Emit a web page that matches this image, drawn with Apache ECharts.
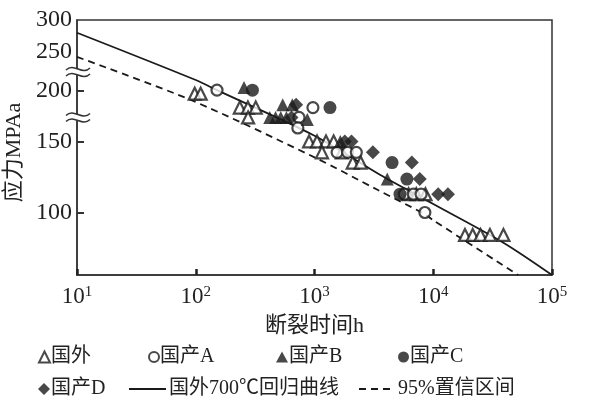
<!DOCTYPE html>
<html><head><meta charset="utf-8">
<script src="https://cdn.jsdelivr.net/npm/echarts@6/dist/echarts.min.js"></script>
<style>html,body{margin:0;padding:0;background:#fff}#c{width:597px;height:408px}</style>
</head><body><div id="c"></div>
<script>
// ---- data (time h, stress MPa) ----
const foreign = [[98,197],[110,197],[235,182],[275,182],[320,182],[276,172],[900,150],[1050,150],[1250,150],[1450,150],[1156,141],[1700,141],[2100,133],[2450,133],[6200,111],[7200,111],[8600,111],[18500,88],[21500,88],[25000,88],[30000,88],[39000,88]];
const domA = [[151,201],[970,182],[740,172],[724,162],[1550,141],[1900,141],[2250,141],[5700,111],[6800,111],[7900,111],[8500,100]];
const domB = [[255,204],[420,172],[470,172],[520,172],[580,172],[540,185],[650,185],[870,170],[1650,150],[4100,121]];
const domC = [[300,201],[1350,182],[4500,133],[6000,121],[5250,111]];
const domD = [[700,185],[640,172],[1800,150],[2050,150],[3100,141],[6600,133],[7700,121],[11000,111],[13300,111]];
const fitLine = [[10,279],[100,213],[151,201],[1000,155],[3560,124],[10000,105],[38650,84.3],[100000,70]];
const confLine = [[10,243],[91,190],[1000,137],[3360,114],[8500,99],[10000,95.7],[51800,70]];
const yTickLabels = [100,150,200,250,300];
const yTicks = [100,150,200];
const names = ['国外','国产A','国产B','国产C','国产D','国外700℃回归曲线','95%置信区间'];

const FONT = '"Liberation Serif","Noto Sans CJK SC",serif';
const INK = '#1a1a1a';
const chart = echarts.init(document.getElementById('c'));

function leg(name, left, top, w, h, extra) {
  const d = {name:name};
  if (extra) d.itemStyle = {opacity:0};
  return {data:[d], left:left, top:top, itemWidth:w, itemHeight:h, itemGap:0, padding:0,
    selectedMode:false, textStyle:{fontFamily:FONT, fontSize:20, color:'#222', padding:[0,0,0,extra?-2:-4]}};
}

chart.setOption({
  animation:false,
  grid:{left:77, top:20, right:45, bottom:133, show:true, borderColor:'#333', borderWidth:1.5,
    outerBoundsMode:'none', containLabel:false},
  legend:[
    leg(names[0],38,347,11,11), leg(names[1],148,347,10,10), leg(names[2],276,347,12,11), leg(names[3],398,347,11,11),
    leg(names[4],38,379,12,12), leg(names[5],128,379,37,12,true), leg(names[6],358,379,36,12,true)
  ],
  xAxis:{type:'log', logBase:10, min:10, max:100000,
    name:'断裂时间h', nameLocation:'middle', nameGap:40,
    nameTextStyle:{fontFamily:FONT, fontSize:22, color:'#222'},
    axisLine:{lineStyle:{color:'#333', width:1.5}},
    axisTick:{inside:true, length:6, lineStyle:{color:'#222', width:2.5}},
    minorTick:{show:false}, splitLine:{show:false},
    axisLabel:{margin:10, color:'#222',
      formatter:function(v){return '{b|10}{s|'+Math.round(Math.log10(v))+'}';},
      rich:{b:{fontFamily:FONT, fontSize:23, color:'#222', lineHeight:24},
            s:{fontFamily:FONT, fontSize:15, color:'#222', verticalAlign:'top', lineHeight:24, padding:[0,0,10,0]}}}
  },
  yAxis:{type:'log', logBase:10, min:70, max:300,
    name:'应力MPAa', nameLocation:'middle', nameGap:45, nameRotate:90,
    nameTextStyle:{fontFamily:FONT, fontSize:22, color:'#222', padding:[0,10,0,0]},
    axisLine:{lineStyle:{color:'#333', width:1.5}},
    axisTick:{inside:true, length:7, customValues:yTicks, lineStyle:{color:'#333', width:2}},
    minorTick:{show:false}, splitLine:{show:false},
    axisLabel:{margin:5, customValues:yTickLabels, fontFamily:FONT, fontSize:24, color:'#222'}
  },
  series:[
    {name:names[0], type:'scatter', data:foreign, symbol:'triangle', symbolSize:12,
      itemStyle:{color:'#fff', borderColor:INK, borderWidth:2.2}, z:3},
    {name:names[1], type:'scatter', data:domA, symbol:'circle', symbolSize:11,
      itemStyle:{color:'#fff', borderColor:INK, borderWidth:2.2}, z:3},
    {name:names[2], type:'scatter', data:domB, symbol:'triangle', symbolSize:13, itemStyle:{color:INK}, z:4},
    {name:names[3], type:'scatter', data:domC, symbol:'circle', symbolSize:13, itemStyle:{color:INK}, z:4},
    {name:names[4], type:'scatter', data:domD, symbol:'diamond', symbolSize:14, itemStyle:{color:INK}, z:4},
    {name:names[5], type:'line', data:fitLine, smooth:0.3, showSymbol:false, symbol:'none',
      lineStyle:{color:INK, width:1.8}, itemStyle:{color:INK}, z:2},
    {name:names[6], type:'line', data:confLine, smooth:0.3, showSymbol:false, symbol:'none',
      lineStyle:{color:INK, width:1.8, type:[7,5]}, itemStyle:{color:INK}, z:2}
  ]
});

// axis break marks on the y axis
const brkVals = [223, 172];
const gfx = [];
const x0 = chart.convertToPixel({xAxisIndex:0}, 10);
brkVals.forEach(function(v){
  const y = chart.convertToPixel({yAxisIndex:0}, v);
  gfx.push({type:'rect', shape:{x:x0-4, y:y-3, width:8, height:6}, style:{fill:'#fff'}, z:100});
  [-3,3].forEach(function(d){
    const yy = y + d;
    gfx.push({type:'bezierCurve', z:101,
      shape:{x1:x0-11, y1:yy+1, cpx1:x0-3, cpy1:yy-7, cpx2:x0+5, cpy2:yy+7, x2:x0+13, y2:yy-1},
      style:{fill:'none', stroke:'#333', lineWidth:1.5}});
  });
});
chart.setOption({graphic:gfx});
</script></body></html>
